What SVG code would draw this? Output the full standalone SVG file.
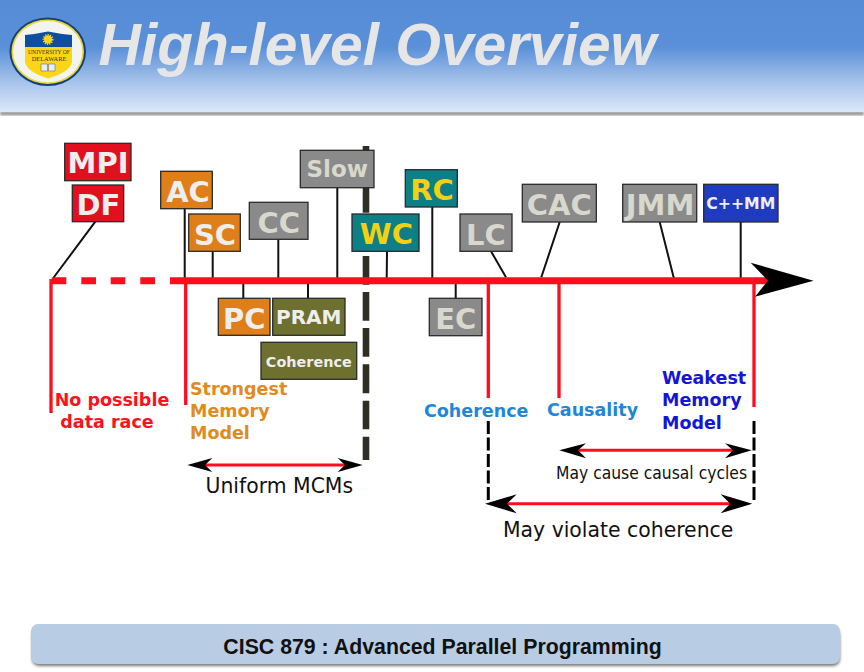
<svg xmlns="http://www.w3.org/2000/svg" width="864" height="672" viewBox="0 0 864 672">
<style>
.b{stroke:#2a2a2a;stroke-width:1.3}
.t{font-family:"DejaVu Sans",sans-serif;font-weight:700;font-size:29px;text-anchor:middle}
.l{font-family:"DejaVu Sans",sans-serif;font-weight:700;font-size:17.5px}
.n{font-family:"DejaVu Sans",sans-serif;fill:#111}
.red{fill:#e2101e}.org{fill:#e07f1a}.gry{fill:#8a8a8a}.tea{fill:#0d7f86}.olv{fill:#6e7030}
.w{fill:#eee}.g{fill:#d8d8cc}.y{fill:#f5d010}
.c{stroke:#111;stroke-width:2;fill:none}
.r{stroke:#ff0d1e;fill:none}
</style>
<defs>
<linearGradient id="hd" x1="0" y1="0" x2="0" y2="1">
<stop offset="0" stop-color="#568cd6"/><stop offset=".42" stop-color="#5a90d8"/><stop offset=".72" stop-color="#a3c1ea"/><stop offset="1" stop-color="#dde8fa"/>
</linearGradient>
<filter id="sh" x="-5%" y="-20%" width="110%" height="150%"><feGaussianBlur stdDeviation="1.5"/></filter>
</defs>
<rect width="864" height="672" fill="#fff"/>
<g id="header">
<rect x="0" y="112" width="864" height="3" fill="#777" filter="url(#sh)"/>
<rect x="0" y="0" width="864" height="112" fill="url(#hd)"/>
<text x="98.500" y="64.500" font-family="'Liberation Sans',sans-serif" font-weight="700" font-style="italic" font-size="58.700" fill="#e6e6e6">High-level Overview</text>
</g>
<g id="logo">
<ellipse cx="47.7" cy="51.7" rx="38.3" ry="34.3" fill="#143f78"/>
<ellipse cx="47.7" cy="51.7" rx="36.3" ry="32.3" fill="#e8d63a"/>
<ellipse cx="47.7" cy="51.7" rx="34.600" ry="30.600" fill="#f2f4f0"/>
<path d="M25 35Q36 34 48 31.5Q60 34 72 35V47H25Z" fill="#0d4ea0"/>
<path d="M25 47H72V62Q70 72 48 78.5Q27 72 25 62Z" fill="#fcd616"/>
<circle cx="48" cy="39.5" r="4" fill="#fcd616" stroke="#fcd616" stroke-width="3" stroke-dasharray="1 1"/>
<path d="M41 64H47.5V71H41ZM48.5 64H55V71H48.5Z" fill="#e8eef6" stroke="#555" stroke-width=".5"/>
<text x="49" y="54" font-family="'Liberation Serif',serif" font-size="5.600" text-anchor="middle" fill="#333">UNIVERSITY OF</text>
<text x="49" y="60.500" font-family="'Liberation Serif',serif" font-size="6.400" text-anchor="middle" fill="#333">DELAWARE</text>
</g>
<g id="connectors">
<path d="M366 146V177M366 184V212.700M366 256V284.700M366 292V320.700M366 328V356.700M366 364.300V393.300M366 400.700V429.300M366 436.700V460" stroke="#2e2e22" stroke-width="6.600" fill="none"/>
<path class="c" d="M95.300 221.700L53.300 278M184.700 208.700V278M212.700 251V278M278.300 239V278M337.300 187.700V278M387 251.300L386.700 278M432.300 207V278M491 251.300L506 277.300M559.700 222L541.300 277.300M659.700 222L674.300 280M740.700 222V280M455.700 284V298M243.300 284V298M308 284V298"/>
<path class="r" stroke-width="7" d="M51.700 280.700H66.300M81.300 280.700H96M110.700 280.700H125.300M140.300 280.700H155M170 280.700H768"/>
<path class="r" stroke-width="3.300" d="M51 279V413M185.700 279V405M488.300 282V398M559 282V398M754 282V407"/>
<path d="M813.500 280.700L750.700 262.700L768 280.700L755 296.700Z" fill="#000"/>
<path d="M488.300 421V502M754 421V502" stroke="#000" stroke-width="3" stroke-dasharray="13 3.500" fill="none"/>
<g id="arrow-uniform">
<path class="r" stroke-width="3" d="M200 465H350"/>
<path d="M187.300 465L212.300 458L205 465L212.300 472ZM362.700 465L337.700 458L345 465L337.700 472Z" fill="#000"/>
</g>
<g id="arrow-causal">
<path class="r" stroke-width="3" d="M572 450.300H740"/>
<path d="M559.300 450.300L586 443.300L578 450.300L586 458.300ZM751.700 450.300L725 443.300L733 450.300L725 458.300Z" fill="#000"/>
</g>
<g id="arrow-coherence">
<path class="r" stroke-width="3" d="M500 503.700H738"/>
<path d="M485 503.700L516.700 494.300L507 503.700L516.700 513.300ZM752.300 503.700L720.600 494.300L730.300 503.700L720.600 513.300Z" fill="#000"/>
</g>
</g>
<g id="MPI"><rect class="b red" x="64.700" y="143.300" width="66.300" height="37.400"/><text class="t w" x="98" y="173.300">MPI</text></g>
<g id="DF"><rect class="b red" x="72.300" y="185" width="51.400" height="36.700"/><text class="t w" x="98.500" y="215">DF</text></g>
<g id="AC"><rect class="b org" x="160.700" y="171.300" width="51.600" height="37.400"/><text class="t w" x="188" y="201.500">AC</text></g>
<g id="SC"><rect class="b org" x="188.700" y="214" width="51.600" height="37.300"/><text class="t w" x="215" y="245">SC</text></g>
<g id="CC"><rect class="b gry" x="249.300" y="202.300" width="58.700" height="37"/><text class="t g" x="278.700" y="232.500">CC</text></g>
<g id="Slow"><rect class="b gry" x="300.300" y="150.300" width="73.700" height="37.400"/><text class="t g" style="font-size:23px" x="337.200" y="176.500">Slow</text></g>
<g id="WC"><rect class="b tea" x="352" y="214" width="67" height="37.300"/><text class="t y" x="386.500" y="244">WC</text></g>
<g id="RC"><rect class="b tea" x="405.300" y="169.700" width="52" height="37.300"/><text class="t y" x="432" y="199.500">RC</text></g>
<g id="LC"><rect class="b gry" x="460" y="214" width="52" height="37.300"/><text class="t g" x="486" y="244.500">LC</text></g>
<g id="CAC"><rect class="b gry" x="522.300" y="184.300" width="74" height="37.700"/><text class="t g" x="559.300" y="215">CAC</text></g>
<g id="JMM"><rect class="b gry" x="622.700" y="184.300" width="74" height="37.700"/><text class="t g" x="660" y="215">JMM</text></g>
<g id="CppMM"><rect class="b" fill="#1f3cc0" x="703.700" y="184.300" width="74.300" height="37.700"/><text class="t" fill="#eef" style="font-size:15.700px" x="740.800" y="209">C++MM</text></g>
<g id="EC"><rect class="b gry" x="429.300" y="298.300" width="52.700" height="37.400"/><text class="t g" x="455.700" y="328.500">EC</text></g>
<g id="PC"><rect class="b org" x="218.300" y="298.300" width="51.700" height="37"/><text class="t w" x="244.200" y="328.500">PC</text></g>
<g id="PRAM"><rect class="b olv" x="272.700" y="298.300" width="72.300" height="37"/><text class="t w" style="font-size:20px" x="308.800" y="324">PRAM</text></g>
<g id="Coherence-box"><rect class="b olv" x="261" y="342.300" width="95.700" height="37"/><text class="t w" style="font-size:14.400px" x="308.800" y="367">Coherence</text></g>
<g id="labels">
<text class="l" fill="#ff1020" text-anchor="middle" x="112" y="406">No possible</text>
<text class="l" fill="#ff1020" text-anchor="middle" x="107" y="428.300">data race</text>
<g fill="#e08a20"><text class="l" x="190" y="395">Strongest</text><text class="l" x="190" y="417">Memory</text><text class="l" x="190" y="439">Model</text></g>
<text class="l" fill="#1f86d8" x="424" y="416.700">Coherence</text>
<text class="l" fill="#1f86d8" x="547" y="415.700">Causality</text>
<g fill="#1515d8"><text class="l" x="662" y="384.300">Weakest</text><text class="l" x="662" y="406.300">Memory</text><text class="l" x="662" y="428.500">Model</text></g>
<text class="n" x="205.500" y="493" font-size="20.400">Uniform MCMs</text>
<text class="n" x="556" y="479.300" font-size="17" textLength="191" lengthAdjust="spacingAndGlyphs">May cause causal cycles</text>
<text class="n" x="503" y="537" font-size="20.400">May violate coherence</text>
</g>
<g id="footer">
<rect x="32" y="628" width="808" height="38" rx="7" fill="#777" filter="url(#sh)"/>
<rect x="31" y="624" width="809" height="40" rx="7" fill="#b8cce4"/>
<text x="442.500" y="654" font-family="'Liberation Sans',sans-serif" font-weight="700" font-size="21.300" text-anchor="middle" fill="#111">CISC 879 : Advanced Parallel Programming</text>
</g>
</svg>
